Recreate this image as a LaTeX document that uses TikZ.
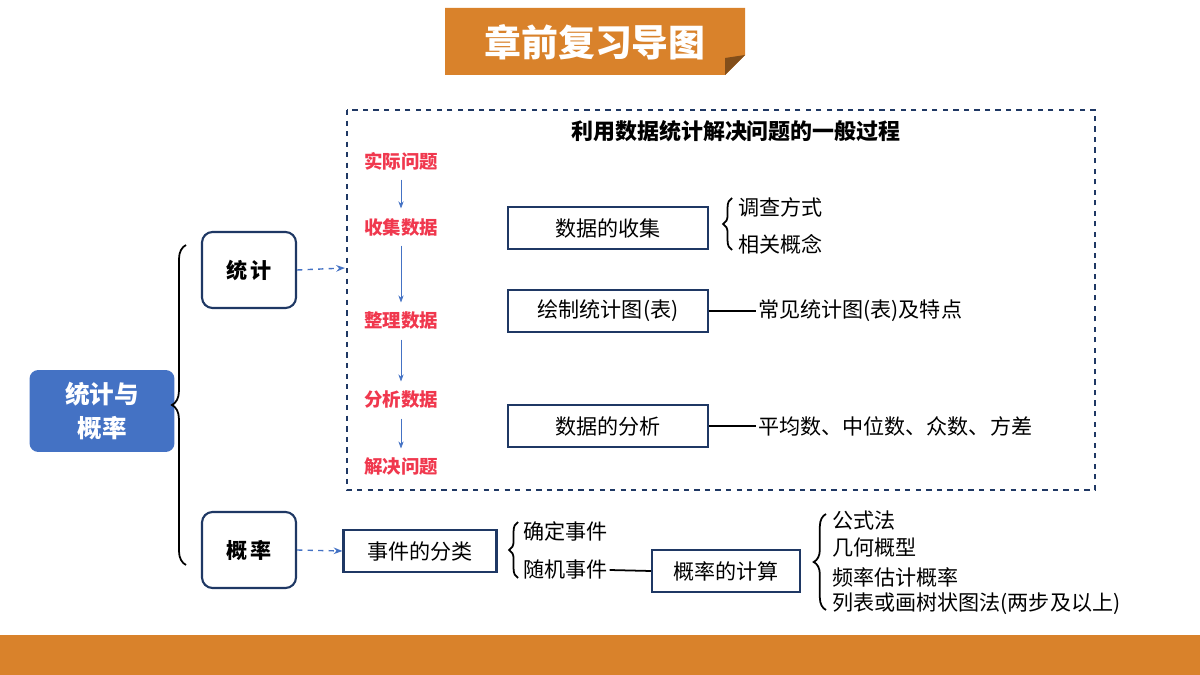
\documentclass[tikz,border=0pt]{standalone}
\usepackage{fontspec}
\setmainfont{Noto Sans CJK SC}
\usetikzlibrary{decorations.pathreplacing}
\usetikzlibrary{arrows.meta}
\definecolor{TitleOrange}{HTML}{D9822B}
\definecolor{NavyLine}{HTML}{1F3864}
\definecolor{MainBlue}{HTML}{4472C4}
\definecolor{StepRed}{HTML}{F0384E}
\newcommand{\itemfont}{\fontsize{12pt}{14pt}\selectfont}
\newcommand{\stepfont}{\fontsize{10.5pt}{12pt}\selectfont\bfseries}
\tikzset{
  boxnode/.style={draw=NavyLine,line width=1.2pt,minimum height=0.84cm,
    inner sep=0pt,font=\itemfont},
  roundbox/.style={draw=NavyLine,line width=1.2pt,rounded corners=6pt,
    minimum width=1.88cm,minimum height=1.52cm,font=\itemfont\bfseries},
  stepnode/.style={text=StepRed,font=\stepfont},
  itemnode/.style={anchor=west,inner sep=1pt,font=\itemfont},
  bracepath/.style={decorate,decoration={brace,amplitude=#1},line width=1pt},
  steparrow/.style={-{Stealth[length=4pt]},draw=MainBlue,thin},
  dasharrow/.style={-{Stealth[length=5pt]},draw=MainBlue,dashed,line width=0.8pt}
}
\begin{document}
\begin{tikzpicture}[x=0.02cm,y=-0.02cm]
  \useasboundingbox (0,0) rectangle (1200,675);
  % title and footer
  \fill[TitleOrange] (0,635) rectangle (1200,675);
  \fill[TitleOrange] (445,8) -- (745,8) -- (745,55) -- (725,75) -- (445,75) -- cycle;
  \fill[TitleOrange!60!black] (745,55) -- (725,58) -- (725,75) -- cycle;
  \node[text=white,font=\fontsize{21pt}{24pt}\selectfont\bfseries] (title) at (595,42) {章前复习导图};
  % main
  \node[fill=MainBlue,rounded corners=5pt,minimum width=2.9cm,minimum height=1.64cm,
    text=white,align=center,font=\fontsize{14pt}{19pt}\selectfont\bfseries] (main) at (102,411) {统计与\\概率};
  \draw[bracepath=8pt] (186,565) -- (186,245);
  \node[roundbox] (stat) at (249,270) {统\,计};
  \node[roundbox] (prob) at (249,550) {概\,率};
  % process frame
  \draw[NavyLine,dashed,line width=0.8pt] (347,110) rectangle (1095,490);
  \node[font=\fontsize{12.5pt}{14pt}\selectfont\bfseries] (ptitle) at (736,131) {利用数据统计解决问题的一般过程};
  \coordinate (frameL) at (345,268);
  \draw[dasharrow] (stat.east) -- (frameL);
  % steps
  \node[stepnode] (s1) at (401,161) {实际问题};
  \node[stepnode] (s2) at (401,227) {收集数据};
  \node[stepnode] (s3) at (401,321) {整理数据};
  \node[stepnode] (s4) at (401,400) {分析数据};
  \node[stepnode] (s5) at (401,467) {解决问题};
  \foreach \a/\b in {s1/s2,s2/s3,s3/s4,s4/s5}
    \draw[steparrow] ([yshift=-2pt]\a.south) -- ([yshift=2pt]\b.north);
  % statistics boxes
  \node[boxnode,minimum width=4cm] (collect) at (608,228) {数据的收集};
  \node[boxnode,minimum width=4cm] (chart) at (608,311) {绘制统计图(表)};
  \node[boxnode,minimum width=4cm] (analyse) at (608,426) {数据的分析};
  \draw[bracepath=5pt] (732,250) -- (732,198);
  \node[itemnode] (c1) at (736,207) {调查方式};
  \node[itemnode] (c2) at (736,244) {相关概念};
  \node[itemnode] (ch1) at (756,311) {常见统计图(表)及特点};
  \draw[line width=1pt] (chart.east) -- (ch1.west);
  \node[itemnode] (an1) at (756,426) {平均数、中位数、众数、方差};
  \draw[line width=1pt] (analyse.east) -- (an1.west);
  % probability
  \node[boxnode,minimum width=3.06cm] (classify) at (420,551) {事件的分类};
  \draw[dasharrow] (prob.east) -- (classify.west);
  \draw[bracepath=5pt] (518,578) -- (518,522);
  \node[itemnode] (e1) at (521,531) {确定事件};
  \node[itemnode] (e2) at (521,570) {随机事件};
  \node[boxnode,minimum width=2.96cm] (calc) at (726,571) {概率的计算};
  \draw[line width=1pt] (e2.east) -- (calc.west);
  \draw[bracepath=7pt] (826,610) -- (826,514);
  \node[itemnode] (m1) at (830,521) {公式法};
  \node[itemnode] (m2) at (830,548) {几何概型};
  \node[itemnode] (m3) at (830,577) {频率估计概率};
  \node[itemnode] (m4) at (830,604) {列表或画树状图法(两步及以上)};
\end{tikzpicture}
\end{document}
